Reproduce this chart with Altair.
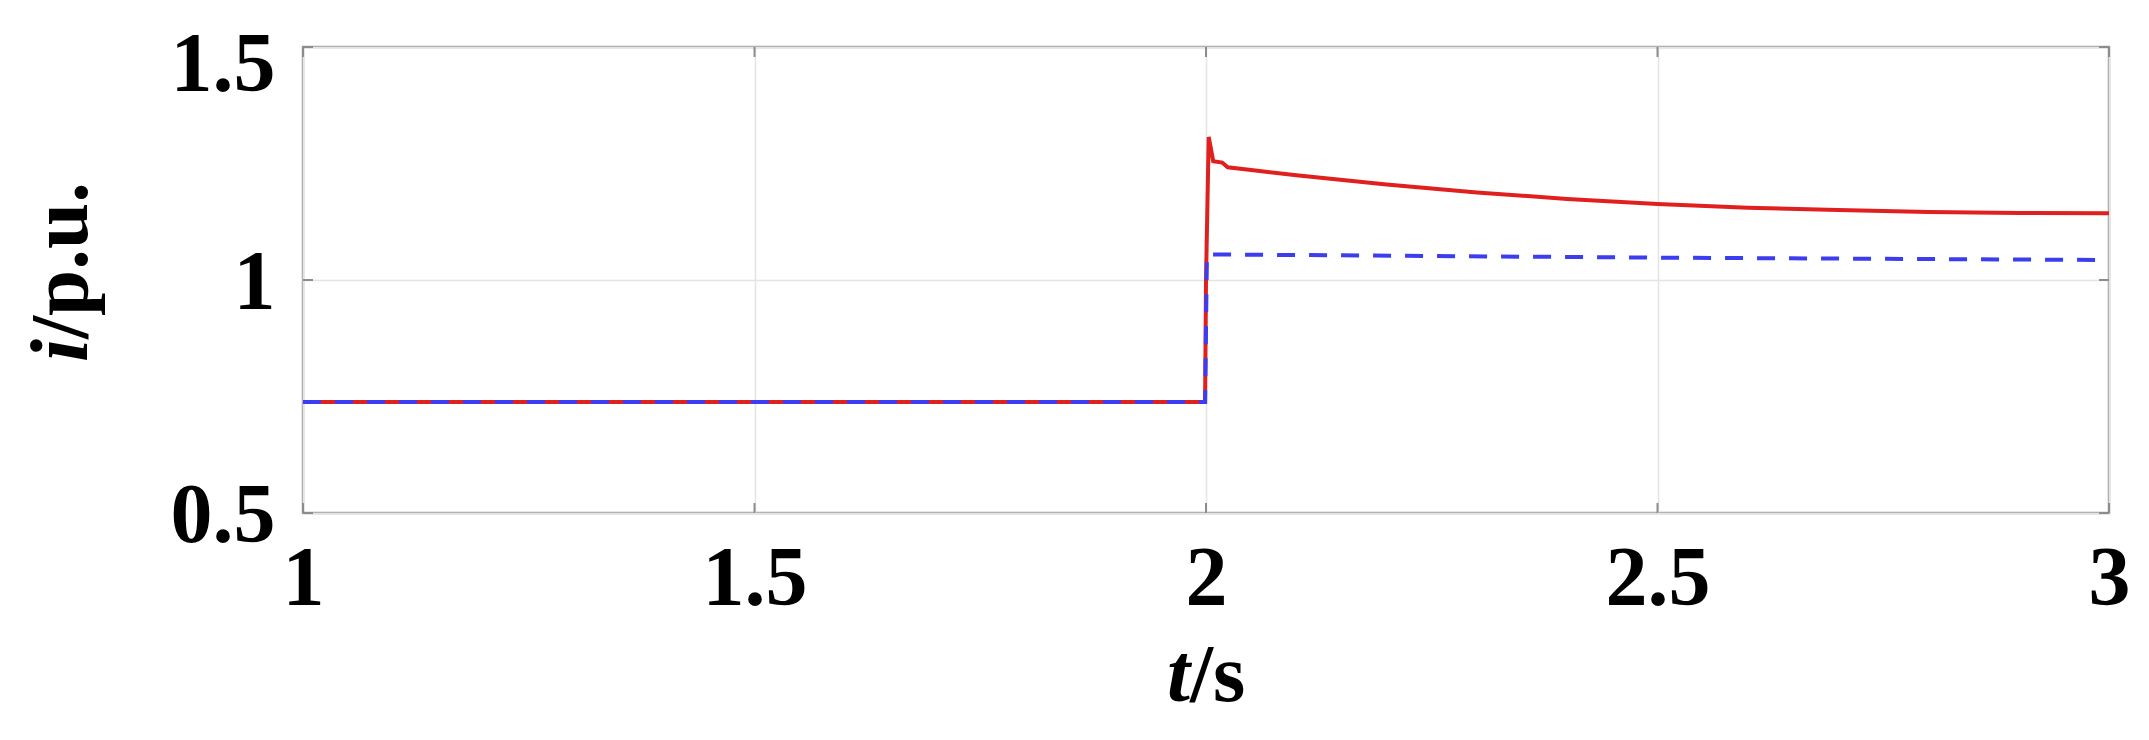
import altair as alt
import pandas as pd

# ---- data ----
t_red = [1.0, 1.999, 2.000, 2.003, 2.008, 2.018, 2.024, 2.05, 2.1, 2.2, 2.3, 2.4, 2.5, 2.6, 2.7, 2.8, 2.9, 3.0]
i_red = [0.738, 0.738, 1.000, 1.307, 1.255, 1.252, 1.242, 1.236, 1.225, 1.205, 1.188, 1.174, 1.163, 1.155, 1.150, 1.146, 1.144, 1.143]

t_blue = [1.0, 1.999, 2.001, 2.5, 3.0]
i_blue = [0.738, 0.738, 1.055, 1.048, 1.043]

x_ticks = [1, 1.5, 2, 2.5, 3]
y_ticks = [0.5, 1, 1.5]

W, H = 1806, 466
FONT = "Liberation Serif"
FS = 84

red_df = pd.DataFrame({"t": t_red, "i": i_red})
blue_df = pd.DataFrame({"t": t_blue, "i": i_blue})
xt_df = pd.DataFrame({"t": x_ticks})
yt_df = pd.DataFrame({"i": y_ticks})

xscale = alt.Scale(domain=[1, 3], nice=False, zero=False)
yscale = alt.Scale(domain=[0.5, 1.5], nice=False, zero=False)

xaxis = alt.Axis(values=x_ticks, format="~g", title=None, grid=True, gridColor="#e4e4e4", gridWidth=1.5,
                 domain=False, ticks=False, labelFont=FONT, labelFontWeight="bold", labelFontSize=FS,
                 labelColor="black", labelPadding=91, labelFlush=False, labelBaseline="alphabetic")
yaxis = alt.Axis(values=y_ticks, format="~g", title=None, grid=True, gridColor="#e4e4e4", gridWidth=1.5,
                 domain=False, ticks=False, labelFont=FONT, labelFontWeight="bold", labelFontSize=FS,
                 labelColor="black", labelPadding=28, labelFlush=False, labelBaseline="alphabetic",
                 labelOffset={"condition": {"test": "datum.value == 1.5", "value": 43},
                              "value": 28})

red = alt.Chart(red_df).mark_line(color="#e0201e", strokeWidth=4, interpolate="linear").encode(
    x=alt.X("t:Q", scale=xscale, axis=xaxis),
    y=alt.Y("i:Q", scale=yscale, axis=yaxis),
    order=alt.Order("t:Q"),
)
blue = alt.Chart(blue_df).mark_line(color="#3c3cf0", strokeWidth=4, strokeDash=[18, 14]).encode(
    x=alt.X("t:Q", scale=xscale),
    y=alt.Y("i:Q", scale=yscale),
    order=alt.Order("t:Q"),
)

TC = "#8c8c8c"
xt_bot = alt.Chart(xt_df).mark_rule(color=TC, strokeWidth=2).encode(
    x=alt.X("t:Q", scale=xscale), y=alt.value(H), y2=alt.value(H - 10))
xt_top = alt.Chart(xt_df).mark_rule(color=TC, strokeWidth=2).encode(
    x=alt.X("t:Q", scale=xscale), y=alt.value(0), y2=alt.value(10))
yt_left = alt.Chart(yt_df).mark_rule(color=TC, strokeWidth=2).encode(
    y=alt.Y("i:Q", scale=yscale), x=alt.value(0), x2=alt.value(10))
yt_right = alt.Chart(yt_df).mark_rule(color=TC, strokeWidth=2).encode(
    y=alt.Y("i:Q", scale=yscale), x=alt.value(W), x2=alt.value(W - 10))

# axis titles with italic variable letters
TFS = 83
yt1 = alt.Chart(yt_df).transform_filter("datum.i == 1").mark_text(
    font=FONT, fontSize=TFS, fontWeight="bold", fontStyle="italic", angle=270, align="right",
    baseline="alphabetic", color="black").encode(x=alt.value(-216), y=alt.value(292), text=alt.value("i"))
yt2 = alt.Chart(yt_df).transform_filter("datum.i == 1").mark_text(
    font=FONT, fontSize=TFS, fontWeight="bold", angle=270, align="left",
    baseline="alphabetic", color="black").encode(x=alt.value(-216), y=alt.value(292), text=alt.value("/p.u."))
xt1 = alt.Chart(xt_df).transform_filter("datum.t == 1").mark_text(
    font=FONT, fontSize=TFS, fontWeight="bold", fontStyle="italic", align="right",
    baseline="alphabetic", color="black").encode(x=alt.value(887), y=alt.value(654), text=alt.value("t"))
xt2 = alt.Chart(xt_df).transform_filter("datum.t == 1").mark_text(
    font=FONT, fontSize=TFS, fontWeight="bold", align="left",
    baseline="alphabetic", color="black").encode(x=alt.value(887), y=alt.value(654), text=alt.value("/s"))

chart = alt.layer(red, blue, xt_bot, xt_top, yt_left, yt_right, yt1, yt2, xt1, xt2).properties(
    width=W, height=H,
    autosize=alt.AutoSizeParams(type="none"),
    padding={"left": 295, "top": 39, "right": 30, "bottom": 222},
    background="white",
).configure_view(stroke="#a0a0a0", strokeWidth=2.5)

chart.save("out.html", embed_options={"renderer": "svg", "actions": False})
